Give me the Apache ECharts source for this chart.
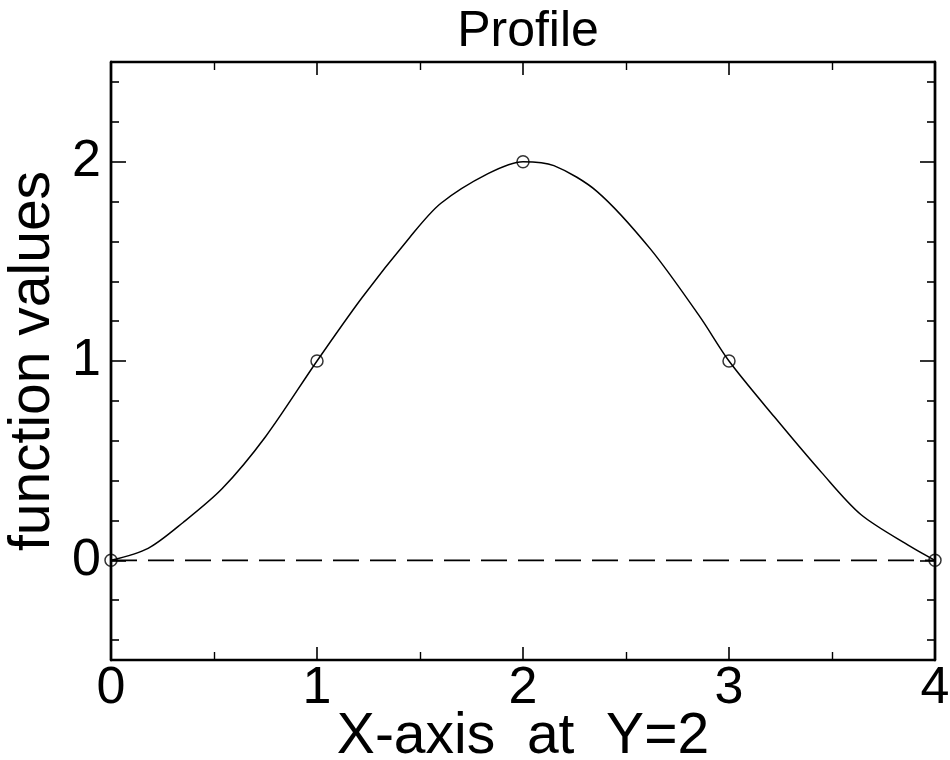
<!DOCTYPE html>
<html>
<head>
<meta charset="utf-8">
<title>Profile</title>
<script src="https://cdn.jsdelivr.net/npm/echarts@6/dist/echarts.min.js"></script>
<style>
  html, body { margin: 0; padding: 0; background: #fff; overflow: hidden; }
  #chart { width: 950px; height: 760px; }
</style>
</head>
<body>
<div id="chart"></div>
<script>
// Sampled nodes of the function along the line Y = 2
const nodeX = [0, 1, 2, 3, 4];
const nodeY = [0, 1, 2, 1, 0];

// Interpolated profile through the nodes
const curveX = [0, 0.18, 0.35, 0.54, 0.75, 1.0, 1.22, 1.45, 1.60, 1.83, 2.0,
                2.15, 2.36, 2.62, 2.86, 3.0, 3.22, 3.45, 3.64, 3.88, 4.0];
const curveY = [0, 0.06, 0.19, 0.36, 0.62, 1.0, 1.32, 1.62, 1.79, 1.94, 2.0,
                1.98, 1.85, 1.56, 1.22, 1.0, 0.72, 0.44, 0.23, 0.07, 0];

// Zero reference line
const baseX = [0, 4];
const baseY = [0, 0];

// Tick positions
const xLabels = [0, 1, 2, 3, 4];
const yMajor = [0, 1, 2];
const yMinor = [-0.4, -0.2, 0.2, 0.4, 0.6, 0.8, 1.2, 1.4, 1.6, 1.8, 2.2, 2.4];

const FONT = '"Liberation Sans", Arial, Helvetica, sans-serif';
const INK = '#000';

const pairs = (xs, ys) => xs.map((x, i) => [x, ys[i]]);

const chart = echarts.init(document.getElementById('chart'), null, { renderer: 'canvas' });

const frameLine = { show: true, onZero: false, lineStyle: { color: INK, width: 2.4 } };

function yAxisDef(position, ticks, len, withLabels) {
  return {
    type: 'value', position: position, min: -0.5, max: 2.5,
    axisLine: frameLine,
    splitLine: { show: false },
    axisTick: { show: true, inside: true, length: len, customValues: ticks, lineStyle: { color: INK, width: 1.6 } },
    axisLabel: withLabels
      ? { show: true, customValues: ticks, margin: 10, fontSize: 52, fontFamily: FONT, color: INK }
      : { show: false },
    name: withLabels ? 'function values' : '',
    nameLocation: 'middle', nameGap: 49, nameMoveOverlap: false,
    nameTextStyle: { fontSize: 57, fontFamily: FONT, color: INK }
  };
}

function xAxisDef(position, withLabels) {
  return {
    type: 'value', position: position, min: 0, max: 4, interval: 1,
    axisLine: frameLine,
    splitLine: { show: false },
    axisTick: { show: true, inside: true, length: 13, lineStyle: { color: INK, width: 1.6 } },
    minorTick: { show: true, splitNumber: 2, length: 8, lineStyle: { color: INK, width: 1.4 } },
    minorSplitLine: { show: false },
    axisLabel: withLabels
      ? { show: true, margin: 3, fontSize: 52, fontFamily: FONT, color: INK,
          customValues: xLabels, formatter: v => String(v) }
      : { show: false },
    name: withLabels ? 'X-axis  at  Y=2' : '',
    nameLocation: 'middle', nameGap: 49, nameMoveOverlap: false,
    nameTextStyle: { fontSize: 57, fontFamily: FONT, color: INK }
  };
}

chart.setOption({
  animation: false,
  backgroundColor: '#fff',
  title: {
    text: 'Profile', left: 523, top: 2, textAlign: 'center',
    textStyle: { fontSize: 50, fontWeight: 'normal', fontFamily: FONT, color: INK }
  },
  grid: { left: 111, right: 15, top: 62, bottom: 100, containLabel: false, outerBoundsMode: 'none' },
  xAxis: [xAxisDef('bottom', true), xAxisDef('top', false)],
  yAxis: [
    yAxisDef('left', yMajor, 15, true),
    yAxisDef('left', yMinor, 8, false),
    yAxisDef('right', yMajor, 15, false),
    yAxisDef('right', yMinor, 8, false)
  ],
  series: [
    {
      type: 'line', data: pairs(baseX, baseY), symbol: 'none', silent: true,
      lineStyle: { color: INK, width: 1.6, type: [26, 11] }
    },
    {
      type: 'line', data: pairs(curveX, curveY), symbol: 'none', smooth: 0.3, silent: true,
      lineStyle: { color: INK, width: 1.5 }
    },
    {
      type: 'scatter', data: pairs(nodeX, nodeY), symbol: 'circle', symbolSize: 12,
      itemStyle: { color: 'rgba(255,255,255,0)', borderColor: INK, borderWidth: 1.5 }
    }
  ]
});
</script>
</body>
</html>
